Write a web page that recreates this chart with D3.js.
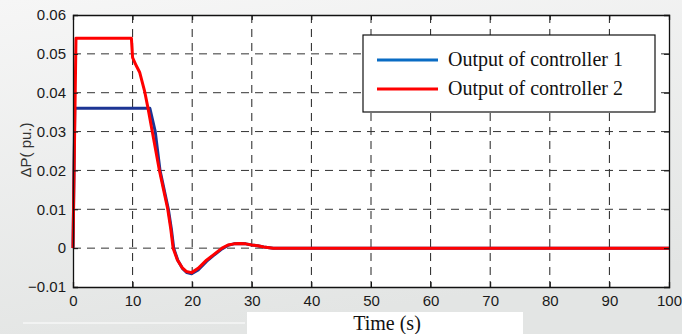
<!DOCTYPE html>
<html>
<head>
<meta charset="utf-8">
<script src="https://cdn.jsdelivr.net/npm/d3@7"></script>
<style>
  body { margin: 0; padding: 0; }
  svg { display: block; }
</style>
</head>
<body>
<div id="chart"></div>
<script>
var svgWidth = 682;
var svgHeight = 334;

var margin = { top: 15, right: 13, bottom: 47, left: 73 };
var width = svgWidth - margin.left - margin.right;
var height = svgHeight - margin.top - margin.bottom;

// data
var time1 = [0, 0.3, 12.9, 13.8, 14.6, 15.3, 16.0, 16.5, 16.9, 17.6, 18.4, 19.1, 19.9, 21, 22.4, 23.5, 25, 26, 27, 28, 29, 30, 31, 32, 33.6, 100];
var ctrl1 = [0, 0.036, 0.036, 0.030, 0.020, 0.015, 0.010, 0.005, 0.0, -0.0032, -0.0053, -0.0063, -0.0066, -0.0056, -0.0034, -0.0020, -0.0002, 0.0007, 0.0011, 0.0012, 0.0011, 0.0008, 0.0006, 0.0003, 0, 0];

var time2 = [0, 0.5, 9.8, 10.0, 10.6, 11.2, 12.0, 12.6, 13.3, 14.5, 15.2, 15.9, 16.4, 16.8, 17.5, 18.3, 19.0, 19.9, 21, 22.4, 23.5, 25, 26, 27, 28, 29, 30, 31, 32, 33.6, 100];
var ctrl2 = [0, 0.054, 0.054, 0.049, 0.047, 0.0452, 0.0405, 0.0359, 0.030, 0.020, 0.015, 0.010, 0.005, 0.0, -0.003, -0.005, -0.006, -0.0063, -0.0052, -0.0031, -0.0018, 0, 0.0008, 0.0011, 0.0012, 0.0011, 0.0008, 0.0006, 0.0003, 0, 0];

var xTicks = [0, 10, 20, 30, 40, 50, 60, 70, 80, 90, 100];
var yTicks = [-0.01, 0, 0.01, 0.02, 0.03, 0.04, 0.05, 0.06];
var seriesNames = ["Output of controller 1", "Output of controller 2"];

var svg = d3.select("#chart")
  .append("svg")
  .attr("width", svgWidth)
  .attr("height", svgHeight);

// grey gradient background
var grad = svg.append("defs").append("linearGradient")
  .attr("id", "bg")
  .attr("x1", 0).attr("y1", 0).attr("x2", 0.3).attr("y2", 1);
grad.append("stop").attr("offset", "0%").attr("stop-color", "#f6f6f6");
grad.append("stop").attr("offset", "100%").attr("stop-color", "#e3e5e4");

svg.append("rect")
  .attr("width", svgWidth)
  .attr("height", svgHeight)
  .attr("fill", "url(#bg)");

var chartGroup = svg.append("g")
  .attr("transform", `translate(${margin.left}, ${margin.top})`);

var xScale = d3.scaleLinear().domain([0, 100]).range([0, width]);
var yScale = d3.scaleLinear().domain([-0.01, 0.06]).range([height, 0]);

chartGroup.append("rect")
  .attr("width", width)
  .attr("height", height)
  .attr("fill", "#ffffff");

// dashed grid
chartGroup.append("g")
  .selectAll("line")
  .data(xTicks.slice(1, -1))
  .enter()
  .append("line")
  .attr("x1", d => xScale(d)).attr("x2", d => xScale(d))
  .attr("y1", 0).attr("y2", height)
  .attr("stroke", "#222")
  .attr("stroke-width", 1)
  .attr("stroke-dasharray", "8,6");

chartGroup.append("g")
  .selectAll("line")
  .data(yTicks.slice(1, -1))
  .enter()
  .append("line")
  .attr("x1", 0).attr("x2", width)
  .attr("y1", d => yScale(d)).attr("y2", d => yScale(d))
  .attr("stroke", "#333")
  .attr("stroke-width", 1)
  .attr("stroke-dasharray", "8,6");

// lines
var line = d3.line()
  .x(d => xScale(d[0]))
  .y(d => yScale(d[1]));

chartGroup.append("path")
  .datum(time1.map((t, i) => [t, ctrl1[i]]))
  .attr("fill", "none")
  .attr("stroke", "#1c3594")
  .attr("stroke-width", 3)
  .attr("stroke-linejoin", "round")
  .attr("d", line);

chartGroup.append("path")
  .datum(time2.map((t, i) => [t, ctrl2[i]]))
  .attr("fill", "none")
  .attr("stroke", "#ff0000")
  .attr("stroke-width", 3)
  .attr("stroke-linejoin", "round")
  .attr("d", line);

// axes (MATLAB style, ticks inward on all sides)
var bottomAxis = d3.axisBottom(xScale).tickValues(xTicks).tickSize(-5).tickPadding(8).tickFormat(d3.format("d"));
var leftAxis = d3.axisLeft(yScale).tickValues(yTicks).tickSize(-5).tickPadding(7).tickFormat(d => d === 0 ? "0" : d3.format(".2f")(d));
var topAxis = d3.axisTop(xScale).tickValues(xTicks).tickSize(-5).tickFormat("");
var rightAxis = d3.axisRight(yScale).tickValues(yTicks).tickSize(-5).tickFormat("");

function styleAxis(g) {
  g.select(".domain").attr("stroke", "#111").attr("stroke-width", 1.3);
  g.selectAll(".tick line").attr("stroke", "#111");
  g.selectAll("text")
    .style("font-family", "Liberation Sans, Arial, sans-serif")
    .style("font-size", "15px")
    .attr("fill", "#1a1a1a");
}

chartGroup.append("g").attr("transform", `translate(0, ${height})`).call(bottomAxis).call(styleAxis);
chartGroup.append("g").call(leftAxis).call(styleAxis);
chartGroup.append("g").call(topAxis).call(styleAxis);
chartGroup.append("g").attr("transform", `translate(${width}, 0)`).call(rightAxis).call(styleAxis);

// legend
var legend = svg.append("g").attr("transform", "translate(363, 35)");
legend.append("rect")
  .attr("width", 292)
  .attr("height", 77)
  .attr("fill", "#ffffff")
  .attr("stroke", "#111")
  .attr("stroke-width", 1.2);

var legendColors = ["#0a6cc4", "#ff0000"];
seriesNames.forEach(function(name, i) {
  var ly = 25 + i * 29;
  legend.append("line")
    .attr("x1", 14).attr("x2", 75)
    .attr("y1", ly).attr("y2", ly)
    .attr("stroke", legendColors[i])
    .attr("stroke-width", 3);
  legend.append("text")
    .attr("x", 85)
    .attr("y", ly + 6)
    .style("font-family", "Liberation Serif, Times New Roman, serif")
    .style("font-size", "20px")
    .attr("fill", "#111")
    .text(name);
});

// y label
svg.append("text")
  .attr("transform", "translate(31, 150) rotate(-90)")
  .attr("text-anchor", "middle")
  .style("font-family", "Liberation Sans, Arial, sans-serif")
  .style("font-size", "15px")
  .attr("fill", "#333")
  .text("ΔP( pu.)");

// x label on white strip
svg.append("line")
  .attr("x1", 23).attr("x2", 245)
  .attr("y1", 323).attr("y2", 323)
  .attr("stroke", "#ffffff")
  .attr("stroke-width", 1);

svg.append("rect")
  .attr("x", 247).attr("y", 312)
  .attr("width", 276).attr("height", 22)
  .attr("fill", "#ffffff");

svg.append("text")
  .attr("x", 387)
  .attr("y", 330)
  .attr("text-anchor", "middle")
  .style("font-family", "Liberation Serif, Times New Roman, serif")
  .style("font-size", "20px")
  .attr("fill", "#111")
  .text("Time (s)");
</script>
</body>
</html>
